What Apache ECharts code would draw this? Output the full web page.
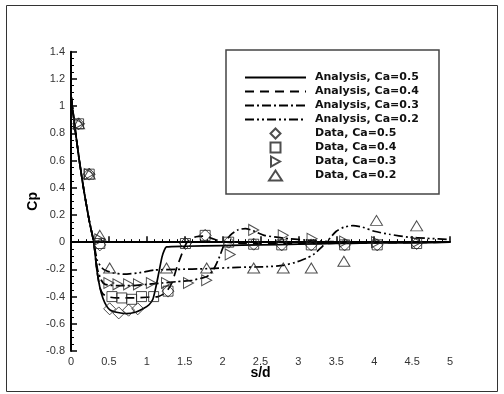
<!DOCTYPE html>
<html>
<head>
<meta charset="utf-8">
<script src="https://cdn.jsdelivr.net/npm/echarts@6/dist/echarts.min.js"></script>
<style>
  html, body { margin: 0; padding: 0; background: #fff; }
  #chart { width: 504px; height: 394px; }
</style>
</head>
<body>
<div id="chart"></div>
<script>
// analysis curves (s/d, Cp)
var a05X = [0, 0.05, 0.11, 0.17, 0.24, 0.3, 0.34, 0.38, 0.42, 0.47, 0.52, 0.6, 0.73, 0.85, 0.95, 1.03, 1.08, 1.12, 1.16, 1.2, 1.23, 1.26, 1.5, 2, 2.5, 3, 3.5, 4, 4.5, 5]
var a05Y = [1.08, 0.85, 0.6, 0.38, 0.16, 0.0, -0.2, -0.33, -0.41, -0.47, -0.5, -0.515, -0.525, -0.515, -0.49, -0.46, -0.42, -0.33, -0.22, -0.11, -0.06, -0.035, -0.03, -0.025, -0.02, -0.015, -0.01, -0.005, -0.005, 0]

var a04X = [0, 0.05, 0.11, 0.17, 0.24, 0.3, 0.34, 0.38, 0.42, 0.48, 0.6, 0.8, 1.0, 1.15, 1.25, 1.33, 1.4, 1.46, 1.52, 1.57, 1.65, 1.75, 1.85, 1.95, 2.05, 2.3, 3, 4, 5]
var a04Y = [1.08, 0.85, 0.6, 0.38, 0.16, 0.0, -0.2, -0.33, -0.38, -0.4, -0.41, -0.41, -0.405, -0.4, -0.37, -0.3, -0.18, -0.09, -0.01, 0.02, 0.04, 0.045, 0.03, 0.01, 0.0, -0.01, -0.01, -0.005, 0]

var a03X = [0, 0.05, 0.11, 0.17, 0.24, 0.3, 0.35, 0.4, 0.45, 0.6, 0.8, 1.0, 1.2, 1.4, 1.6, 1.8, 1.88, 1.95, 2.02, 2.1, 2.2, 2.3, 2.4, 2.55, 2.8, 3.1, 3.4, 3.8, 4.5, 5]
var a03Y = [1.08, 0.85, 0.6, 0.38, 0.16, 0.0, -0.2, -0.28, -0.31, -0.32, -0.32, -0.31, -0.3, -0.29, -0.28, -0.25, -0.2, -0.12, -0.02, 0.05, 0.09, 0.1, 0.085, 0.05, 0.03, 0.015, 0.005, 0.0, 0.0, 0]

var a02X = [0, 0.05, 0.11, 0.17, 0.24, 0.3, 0.35, 0.43, 0.55, 0.7, 0.9, 1.1, 1.4, 1.8, 2.2, 2.6, 2.8, 2.95, 3.1, 3.2, 3.3, 3.4, 3.5, 3.6, 3.72, 3.85, 4.0, 4.2, 4.45, 4.7, 5]
var a02Y = [1.08, 0.85, 0.6, 0.38, 0.16, 0.0, -0.14, -0.2, -0.225, -0.235, -0.225, -0.205, -0.2, -0.195, -0.185, -0.18, -0.17, -0.15, -0.12, -0.09, -0.04, 0.02, 0.08, 0.11, 0.122, 0.11, 0.08, 0.058, 0.037, 0.028, 0.02]

// measured data
var d05X = [0.1, 0.24, 0.38, 0.51, 0.63, 0.76, 0.88, 1.28, 1.51, 1.77, 2.08, 2.41, 2.78, 3.17, 3.61, 4.04, 4.56]
var d05Y = [0.87, 0.5, -0.02, -0.49, -0.52, -0.5, -0.49, -0.36, -0.01, 0.05, 0.0, -0.015, -0.02, -0.02, -0.02, -0.02, -0.01]

var d04X = [0.1, 0.24, 0.38, 0.54, 0.67, 0.8, 0.93, 1.09, 1.28, 1.51, 1.77, 2.08, 2.41, 2.78, 3.17, 3.61, 4.04, 4.56]
var d04Y = [0.87, 0.5, -0.01, -0.4, -0.41, -0.42, -0.4, -0.4, -0.36, -0.01, 0.05, 0.0, -0.015, -0.02, -0.02, -0.02, -0.02, -0.01]

var d03X = [0.1, 0.24, 0.38, 0.5, 0.62, 0.76, 0.89, 1.06, 1.26, 1.55, 1.79, 2.1, 2.41, 2.8, 3.18, 3.61, 4.03, 4.56]
var d03Y = [0.87, 0.5, 0.02, -0.3, -0.31, -0.31, -0.31, -0.3, -0.3, -0.3, -0.28, -0.09, 0.09, 0.05, 0.025, 0.005, 0.0, 0.0]

var d02X = [0.1, 0.24, 0.38, 0.51, 1.26, 1.79, 2.41, 2.8, 3.17, 3.6, 4.03, 4.56]
var d02Y = [0.87, 0.5, 0.05, -0.19, -0.19, -0.19, -0.19, -0.19, -0.19, -0.14, 0.16, 0.12]

var lineNames = ['Analysis, Ca=0.5', 'Analysis, Ca=0.4', 'Analysis, Ca=0.3', 'Analysis, Ca=0.2']
var dataNames = ['Data, Ca=0.5', 'Data, Ca=0.4', 'Data, Ca=0.3', 'Data, Ca=0.2']

// legend icons (keep aspect inside the legend cell)
var dataIcons = [
  'path://M0,-1L1,0L0,1L-1,0Z',
  'path://M0,0L1,0L1,1L0,1Z',
  'path://M0,0L0.9,0.5L0,1Z',
  'path://M0,1L0.65,0L1.3,1Z'
]

function pairs(xs, ys) {
  return xs.map(function (x, i) { return [x, ys[i]] })
}

function curve(name, xs, ys, type) {
  return {
    name: name, type: 'line', data: pairs(xs, ys),
    symbol: 'none', smooth: 0.2,
    itemStyle: { color: '#000' },
    lineStyle: { color: '#000', width: 1.7, type: type }
  }
}

function dots(name, xs, ys, symbol, size, rotate) {
  return {
    name: name, type: 'scatter', data: pairs(xs, ys),
    symbol: symbol, symbolSize: size, symbolRotate: rotate || 0,
    itemStyle: { color: 'rgba(0,0,0,0)', borderColor: '#222', borderWidth: 1 },
    z: 3
  }
}

var chart = echarts.init(document.getElementById('chart'))
var tickFont = { color: '#333', fontSize: 11, fontFamily: 'Liberation Sans' }
var nameFont = { color: '#000', fontSize: 14, fontWeight: 'bold', fontFamily: 'Liberation Sans' }
var legendFont = { color: '#111', fontSize: 11, lineHeight: 12, fontWeight: 'bold', fontFamily: 'DejaVu Sans', padding: [0, 0, 0, 4] }

chart.setOption({
  animation: false,
  backgroundColor: '#fff',
  grid: { left: 71, right: 54, top: 51.7, bottom: 43 },
  xAxis: {
    type: 'value', min: 0, max: 5, interval: 0.5,
    name: 's/d', nameLocation: 'middle', nameGap: 15, nameMoveOverlap: false, nameTextStyle: nameFont,
    axisLine: { lineStyle: { color: '#000', width: 2 } },
    axisTick: { inside: true, length: 6, lineStyle: { color: '#000', width: 1.5 } },
    minorTick: { show: true, splitNumber: 5, length: 3, lineStyle: { color: '#000', width: 1 } },
    axisLabel: Object.assign({ margin: 5 }, tickFont),
    splitLine: { show: false }
  },
  yAxis: {
    type: 'value', min: -0.8, max: 1.4, interval: 0.2,
    name: 'Cp', nameLocation: 'middle', nameGap: 31, nameMoveOverlap: false, nameTextStyle: nameFont,
    axisLine: { show: true, lineStyle: { color: '#000', width: 2 } },
    axisTick: { show: true, inside: true, length: 6, lineStyle: { color: '#000', width: 1.5 } },
    minorTick: { show: true, splitNumber: 4, length: 3, lineStyle: { color: '#000', width: 1 } },
    axisLabel: Object.assign({ margin: 6 }, tickFont),
    splitLine: { show: false }
  },
  legend: [{
    orient: 'vertical', left: 244, top: 71.5, padding: 0,
    itemWidth: 61, itemHeight: 12, itemGap: 2,
    data: lineNames.map(function (n) {
      return { name: n, itemStyle: { color: 'rgba(0,0,0,0)', borderWidth: 0 } }
    }),
    textStyle: legendFont
  }, {
    // box is placed by its widest icon (13px triangle), centred in the 61px cell
    orient: 'vertical', left: 268, top: 127.5, padding: 0,
    itemWidth: 61, itemHeight: 10, itemGap: 2, symbolRotate: 0,
    data: dataNames.map(function (n, i) { return { name: n, icon: dataIcons[i] } }),
    textStyle: legendFont
  }],
  graphic: [
    { type: 'rect', z: -1, shape: { x: 6.5, y: 5.5, width: 491, height: 386 },
      style: { fill: 'none', stroke: '#333', lineWidth: 1 } },
    { type: 'rect', z: 0, shape: { x: 226, y: 50, width: 213, height: 144 },
      style: { fill: '#fff', stroke: '#444', lineWidth: 1.5 } }
  ],
  series: [
    curve(lineNames[0], a05X, a05Y, 'solid'),
    curve(lineNames[1], a04X, a04Y, [9, 6]),
    curve(lineNames[2], a03X, a03Y, [9, 3, 2, 3]),
    curve(lineNames[3], a02X, a02Y, [9, 3, 2, 3, 2, 3]),
    dots(dataNames[0], d05X, d05Y, 'diamond', [12, 12]),
    dots(dataNames[1], d04X, d04Y, 'rect', [10, 10]),
    dots(dataNames[2], d03X, d03Y, 'triangle', [11, 10], -90),
    dots(dataNames[3], d02X, d02Y, 'triangle', [12, 10])
  ]
})
</script>
</body>
</html>
